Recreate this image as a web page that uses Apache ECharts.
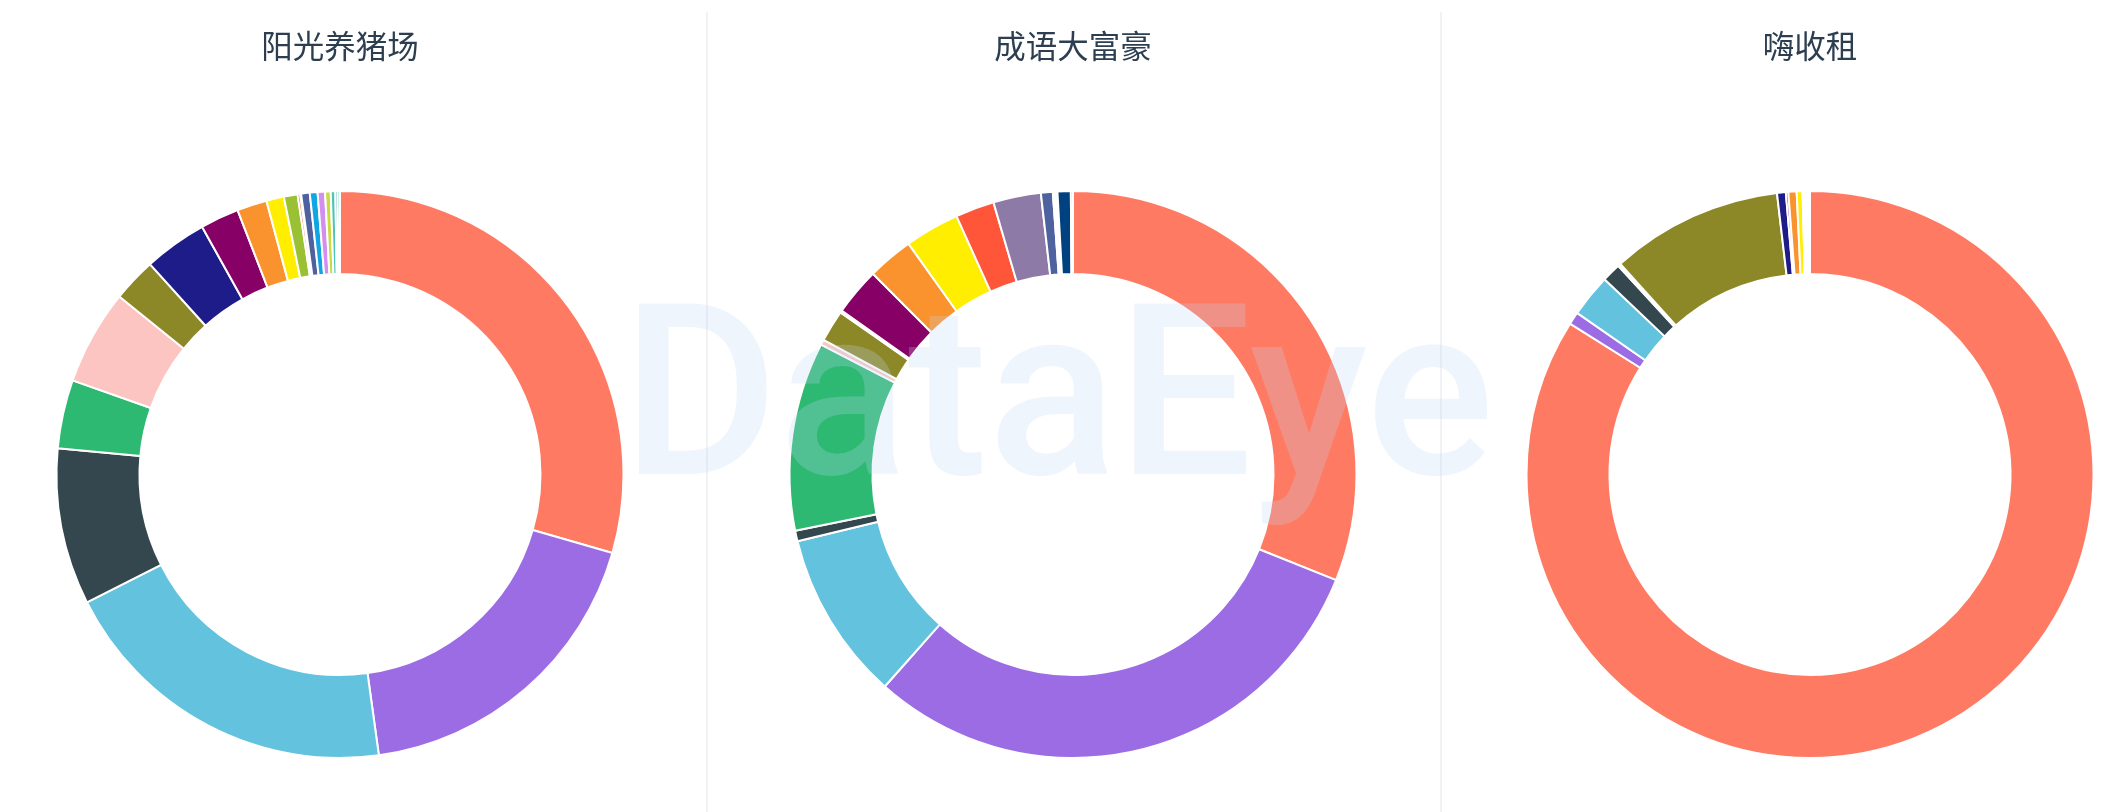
<!DOCTYPE html>
<html>
<head>
<meta charset="utf-8">
<script src="https://cdn.jsdelivr.net/npm/echarts@6/dist/echarts.min.js"></script>
<style>
html,body{margin:0;padding:0;background:#fff;}
#chart{width:2114px;height:812px;}
</style>
</head>
<body>
<div id="chart"></div>
<script>
// Shared categories (unnamed in the picture) and their colours
const categories = ['类别1','类别2','类别3','类别4','类别5','类别6','类别7','类别8','类别9','类别10','类别11','类别12','类别13','类别14','类别15','类别16','类别17','类别18','类别19','类别20','类别21'];
const categoryColors = ['#FF7A63','#9C6CE4','#63C2DD','#34474F','#2DB972','#FDC5C1','#8C8828','#1E1C88','#870066','#FA922D','#FFEE00','#9AC033','#FF5538','#8E7AA6','#4E62A0','#10A5E3','#D28EF0','#C8DB3F','#4CC4B6','#00427F','#00E080'];

// Game titles
const gameTitles = ['阳光养猪场','成语大富豪','嗨收租'];

// Share values (%) per game, in category order (null = absent)
const valuesGame1 = [29.4,18.3,19.7,8.9,3.9,5.4,2.5,3.6,2.2,1.7,1.0,0.78,0.15,0.05,0.49,0.44,0.42,0.32,0.26,0.13,0.13];
const valuesGame2 = [30.9,30.3,9.6,0.6,10.7,0.3,1.8,0.12,2.7,2.6,3.1,null,2.2,2.7,0.67,0.06,0.06,0.06,0.08,0.75,0.12];
const valuesGame3 = [83.9,0.72,2.44,1.08,0.08,0.08,9.8,0.5,0.14,0.47,0.33,0.042,0.042,0.042,0.042,0.042,0.042,0.042,0.042,0.042,0.042];

const allValues = [valuesGame1, valuesGame2, valuesGame3];
const centersX = [340, 1073, 1810];
const centerY = 474.5;

function buildData(vals){
  return categories.map((c,i)=>({name:c, value:vals[i], itemStyle:{color:categoryColors[i]}}))
    .filter(d=>d.value!==null && d.value!==undefined);
}

const chart = echarts.init(document.getElementById('chart'), null, {renderer:'canvas'});

const series = allValues.map((vals,k)=>({
  type:'pie',
  name: gameTitles[k],
  center:[centersX[k], centerY],
  radius:[200.5, 283.5],
  startAngle:90,
  clockwise:true,
  avoidLabelOverlap:false,
  label:{show:false},
  labelLine:{show:false},
  emphasis:{disabled:true},
  itemStyle:{borderColor:'#ffffff', borderWidth:2},
  data: buildData(vals)
}));

const graphics = [];
gameTitles.forEach((t,k)=>{
  graphics.push({type:'text', z:10, style:{text:t, x:centersX[k], y:46, textAlign:'center', textVerticalAlign:'middle',
    font:'400 31.5px "Noto Sans CJK SC", sans-serif', fill:'#2c3e50'}});
});
[707,1441].forEach(x=>{
  graphics.push({type:'line', z:1, shape:{x1:x,y1:12,x2:x,y2:812}, style:{stroke:'#e6e9ee', lineWidth:1.2}});
});
graphics.push({type:'text', z:100, silent:true, style:{text:'DataEye', x:1058, y:294, textAlign:'center', textVerticalAlign:'top',
  font:'500 240px Roboto, sans-serif', fill:'rgba(190,215,245,0.25)'}});

chart.setOption({
  animation:false,
  backgroundColor:'#ffffff',
  tooltip:{show:false},
  graphic:graphics,
  series:series
});
</script>
</body>
</html>
